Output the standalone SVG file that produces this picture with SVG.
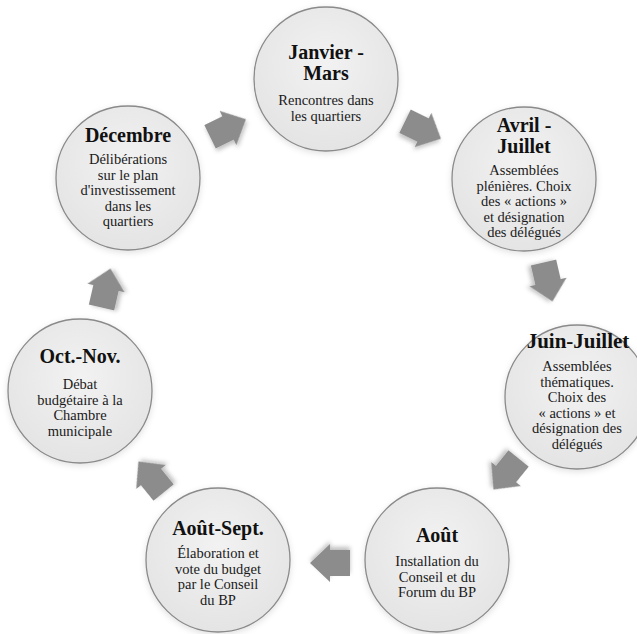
<svg xmlns="http://www.w3.org/2000/svg" xmlns:xlink="http://www.w3.org/1999/xlink" width="637" height="634" viewBox="0 0 637 634">
<defs>
<radialGradient id="cg" cx="50%" cy="40%" r="60%">
<stop offset="0" stop-color="#f2f2f2"/>
<stop offset="1" stop-color="#e4e4e4"/>
</radialGradient>
<filter id="cs" x="-20%" y="-20%" width="140%" height="140%">
<feDropShadow dx="0" dy="2" stdDeviation="3" flood-color="#000" flood-opacity="0.12"/>
</filter>
<filter id="as" x="-40%" y="-40%" width="180%" height="180%">
<feDropShadow dx="0" dy="3" stdDeviation="2" flood-color="#000" flood-opacity="0.25"/>
</filter>
<path id="arr" d="M-20,-13 H0 V-19 L20,0 L0,19 V13 H-20 Z"/>
</defs>
<style>
.c{fill:url(#cg);stroke:#8a8a8a;stroke-width:1.3;filter:url(#cs)}
.t{font-family:"Liberation Serif","DejaVu Serif",serif;font-weight:bold;font-size:20px;fill:#111;text-anchor:middle}
.b{font-family:"Liberation Serif","DejaVu Serif",serif;font-size:14.5px;fill:#1a1a1a;text-anchor:middle}
.a{fill:#8c8c8c;filter:url(#as)}
</style>
<rect width="637" height="634" fill="#fff"/>
<g id="connectors">
<use href="#arr" class="a" transform="translate(228,128) rotate(-26)"/>
<use href="#arr" class="a" transform="translate(423,130) rotate(26)"/>
<use href="#arr" class="a" transform="translate(548,282) rotate(77)"/>
<use href="#arr" class="a" transform="translate(506,474) rotate(129)"/>
<use href="#arr" class="a" transform="translate(330,563) rotate(180)"/>
<use href="#arr" class="a" transform="translate(151,477) rotate(231)"/>
<use href="#arr" class="a" transform="translate(106,288) rotate(-77)"/>
</g>
<g id="n-janvier">
<circle class="c" cx="326" cy="79" r="72"/>
<text class="t"><tspan x="326" y="59">Janvier -</tspan><tspan x="326" y="80">Mars</tspan></text>
<text class="b"><tspan x="326" y="105">Rencontres dans</tspan><tspan x="326" y="120.5">les quartiers</tspan></text>
</g>
<g id="n-avril">
<circle class="c" cx="524" cy="179" r="72"/>
<text class="t"><tspan x="524" y="132">Avril -</tspan><tspan x="524" y="153">Juillet</tspan></text>
<text class="b"><tspan x="524" y="175">Assemblées</tspan><tspan x="524" y="190.5">plénières. Choix</tspan><tspan x="524" y="206">des « actions »</tspan><tspan x="524" y="221.5">et désignation</tspan><tspan x="524" y="237">des délégués</tspan></text>
</g>
<g id="n-juin">
<circle class="c" cx="577" cy="397" r="72"/>
<text class="t" style="font-size:21px"><tspan x="578" y="348">Juin-Juillet</tspan></text>
<text class="b"><tspan x="577" y="371">Assemblées</tspan><tspan x="577" y="386.5">thématiques.</tspan><tspan x="577" y="402">Choix des</tspan><tspan x="577" y="417.5">« actions » et</tspan><tspan x="577" y="433">désignation des</tspan><tspan x="577" y="448.5">délégués</tspan></text>
</g>
<g id="n-aout">
<circle class="c" cx="437" cy="560" r="72"/>
<text class="t"><tspan x="437" y="542">Août</tspan></text>
<text class="b"><tspan x="437" y="566">Installation du</tspan><tspan x="437" y="581.5">Conseil et du</tspan><tspan x="437" y="597">Forum du BP</tspan></text>
</g>
<g id="n-aout-sept">
<circle class="c" cx="218" cy="560" r="72"/>
<text class="t"><tspan x="218" y="535">Août-Sept.</tspan></text>
<text class="b"><tspan x="218" y="558">Élaboration et</tspan><tspan x="218" y="573.5">vote du budget</tspan><tspan x="218" y="589">par le Conseil</tspan><tspan x="218" y="604.5">du BP</tspan></text>
</g>
<g id="n-oct-nov">
<circle class="c" cx="80" cy="391" r="72"/>
<text class="t"><tspan x="80" y="363">Oct.-Nov.</tspan></text>
<text class="b"><tspan x="80" y="389">Débat</tspan><tspan x="80" y="404.5">budgétaire à la</tspan><tspan x="80" y="420">Chambre</tspan><tspan x="80" y="435.5">municipale</tspan></text>
</g>
<g id="n-decembre">
<circle class="c" cx="128" cy="178" r="72"/>
<text class="t"><tspan x="128" y="142">Décembre</tspan></text>
<text class="b"><tspan x="128" y="164">Délibérations</tspan><tspan x="128" y="179.5">sur le plan</tspan><tspan x="128" y="195">d'investissement</tspan><tspan x="128" y="210.5">dans les</tspan><tspan x="128" y="226">quartiers</tspan></text>
</g>
</svg>
